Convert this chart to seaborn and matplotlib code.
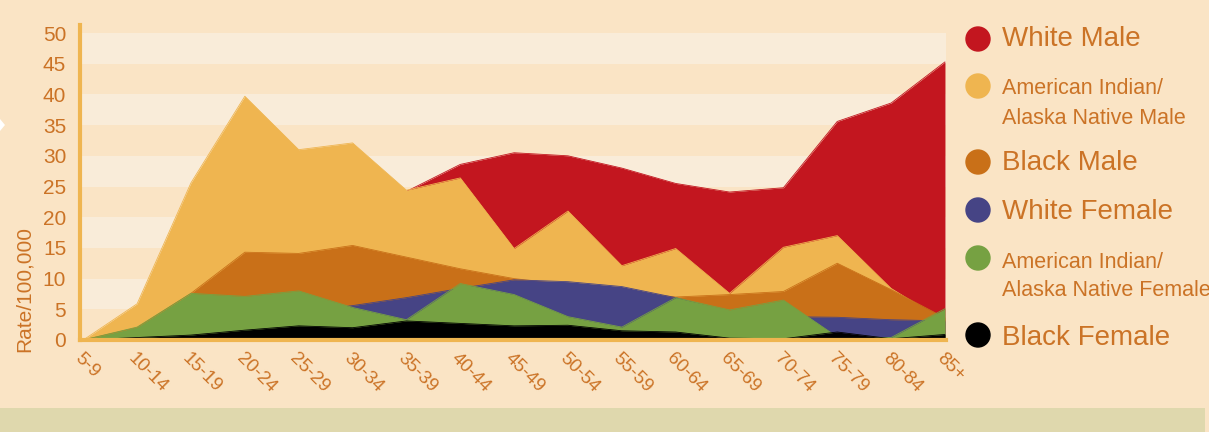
import numpy as np
import pandas as pd
import matplotlib
matplotlib.use("Agg")
import matplotlib.pyplot as plt
import seaborn as sns
from matplotlib.patches import Ellipse, Rectangle, Polygon

age_groups = ["5-9", "10-14", "15-19", "20-24", "25-29", "30-34", "35-39", "40-44",
              "45-49", "50-54", "55-59", "60-64", "65-69", "70-74", "75-79", "80-84", "85+"]

white_male = [0, 1.5, 12, 20, 22, 23, 24.2, 28.6, 30.5, 30.0, 28.0, 25.5, 24.1, 24.8, 35.6, 38.6, 45.3]
ai_male = [0, 5.9, 25.6, 39.7, 31.0, 32.1, 24.4, 26.4, 14.9, 21.0, 12.1, 14.9, 7.6, 15.1, 17.0, 8.4, 3.0]
black_male = [0, 2.0, 7.6, 14.3, 14.1, 15.4, 13.5, 11.6, 10.0, 9.0, 8.0, 7.0, 7.4, 7.9, 12.5, 8.2, 3.6]
white_female = [0, 1.0, 2.5, 3.5, 4.5, 5.6, 6.9, 8.4, 9.8, 9.5, 8.7, 6.9, 4.5, 3.8, 3.7, 3.3, 3.1]
ai_female = [0, 2.1, 7.6, 7.1, 8.0, 5.3, 3.3, 9.2, 7.4, 3.8, 2.1, 6.9, 4.9, 6.5, 0.5, 0.4, 5.1]
black_female = [0, 0.4, 0.8, 1.6, 2.3, 2.0, 3.1, 2.7, 2.3, 2.4, 1.5, 1.3, 0.3, 0.2, 1.3, 0.2, 0.9]

series = ["White Male", "American Indian/\nAlaska Native Male", "Black Male", "White Female",
          "American Indian/\nAlaska Native Female", "Black Female"]
values = [white_male, ai_male, black_male, white_female, ai_female, black_female]
colors = ["#C3161F", "#EFB550", "#C97018", "#464485", "#76A142", "#000000"]

bg = "#FAE4C5"
band = "#F9ECD9"
txt = "#CB7326"

sns.set_theme(style="white", rc={"axes.facecolor": bg, "figure.facecolor": bg})
plt.rcParams["font.family"] = ["Liberation Sans", "DejaVu Sans"]

df = pd.DataFrame({"age": age_groups})
df["x"] = np.arange(len(age_groups))
for name, vals in zip(series, values):
    df[name] = vals
long = df.melt(id_vars=["age", "x"], var_name="group", value_name="rate")

fig = plt.figure(figsize=(12.09, 4.32), dpi=100)
ax = fig.add_axes([0.0662, 0.213, 0.7163, 0.729])

# striped background bands
for lo in range(5, 50, 10):
    ax.axhspan(lo, lo + 5, color=band, zorder=0, lw=0)
ax.axhspan(45, 50, color=band, zorder=0, lw=0)

for i, (name, c) in enumerate(zip(series, colors)):
    sub = long[long["group"] == name]
    ax.fill_between(sub["x"], 0, sub["rate"], color=c, lw=0, zorder=2 + i)
    sns.lineplot(data=sub, x="x", y="rate", color=c, lw=0.6, ax=ax, zorder=2 + i, legend=False)

ax.set_xlim(-0.06, 16.02)
ax.set_ylim(0, 51.3)
ax.set_yticks(range(0, 51, 5))
ax.set_xticks(df["x"])
ax.set_xticklabels(age_groups, rotation=-45, ha="left", va="top", rotation_mode="anchor")
ax.tick_params(axis="y", length=0, pad=10, labelsize=15, labelcolor=txt)
ax.tick_params(axis="x", length=0, pad=7, labelsize=13.5, labelcolor=txt)
ax.set_xlabel("")
ax.set_ylabel("")
fig.text(24 / 1209, 1 - 289 / 432, "Rate/100,000", rotation=90, fontsize=15, color=txt,
         ha="center", va="center")

for s in ["top", "right"]:
    ax.spines[s].set_visible(False)
for s in ["left", "bottom"]:
    ax.spines[s].set_color("#EFB550")
    ax.spines[s].set_linewidth(3)
    ax.spines[s].set_zorder(20)

# legend drawn by hand
W, H = 1209, 432
legend_rows = [
    (39, 39, ["White Male"], 20),
    (86, 89, ["American Indian/", "Alaska Native Male"], 15.5),
    (162, 163, ["Black Male"], 20),
    (210, 212, ["White Female"], 20),
    (258, 262, ["American Indian/", "Alaska Native Female"], 15.5),
    (335, 338, ["Black Female"], 20),
]
for (cy, ty, lines, fs), c in zip(legend_rows, colors):
    fig.add_artist(Ellipse((978 / W, 1 - cy / H), 24 / W, 24 / H, color=c,
                           transform=fig.transFigure))
    for k, line in enumerate(lines):
        fig.text(1002 / W, 1 - (ty + k * 29) / H, line, fontsize=fs, color=txt,
                 ha="left", va="center")

fig.add_artist(Rectangle((0, 0), 1205 / W, 24 / H, color="#DFD8AD",
                         transform=fig.transFigure, lw=0))
fig.add_artist(Polygon([(0, 1 - 119 / H), (5 / W, 1 - 125 / H), (0, 1 - 131 / H)],
                       closed=True, color="white", transform=fig.transFigure, lw=0))

fig.savefig("out.png", dpi=100, facecolor=bg)
